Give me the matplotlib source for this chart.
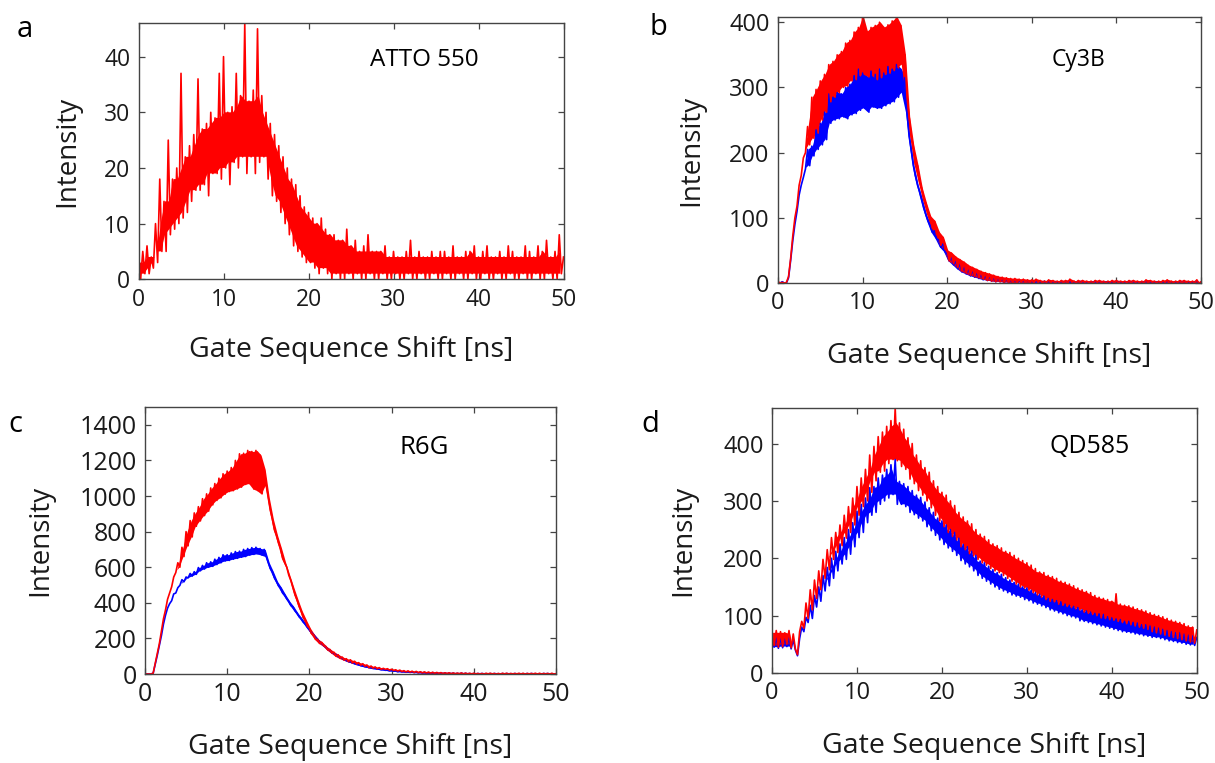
import numpy as np
import matplotlib
matplotlib.use('Agg')
import matplotlib.pyplot as plt

plt.rcParams['font.family'] = ['Open Sans', 'DejaVu Sans']

# gate shift, sampled every 0.25 ns (4 values per ns row below)
# values alternate between the top and the bottom of the noise band
shift_ns = np.arange(0, 50.01, 0.25)

# a: ATTO 550
atto550_red = [
    3, 0, 5, 1,   6, 1, 4, 2,   10, 3, 18, 5,   14, 5, 25, 8,   18, 9, 20, 10,
    37, 11, 22, 12,   24, 14, 26, 16,   36, 16, 27, 17,   28, 15, 30, 19,   29, 19, 37, 18,
    40, 20, 30, 17,   31, 21, 37, 20,   33, 22, 46, 19,   32, 22, 34, 19,   45, 21, 33, 22,
    30, 18, 28, 15,   26, 14, 24, 12,   22, 10, 20, 8,   18, 6, 17, 5,   15, 4, 13, 3,
    12, 3, 11, 2,   10, 1, 11, 2,   9, 1, 8, 0,   8, 1, 7, 0,   7, 0, 9, 1,
    6, 0, 7, 1,   5, 0, 6, 0,   8, 1, 5, 0,   5, 0, 5, 1,   6, 0, 4, 0,
    5, 1, 4, 0,   4, 0, 5, 1,   7, 0, 4, 0,   5, 1, 4, 0,   4, 0, 5, 1,
    4, 0, 5, 0,   5, 1, 4, 0,   6, 0, 4, 1,   4, 0, 5, 0,   5, 1, 6, 0,
    4, 0, 5, 1,   6, 0, 4, 0,   4, 1, 5, 0,   4, 0, 6, 1,   5, 0, 4, 0,
    4, 1, 6, 0,   5, 0, 4, 1,   6, 0, 5, 0,   7, 1, 4, 0,   5, 0, 8, 1,
    4]

# b: Cy3B
cy3b_blue = [
    1, 0, 2, 0,   0, 8, 35, 65,   90, 110, 135, 150,   162, 175, 205, 180,   210, 195, 235, 205,
    245, 212, 262, 220,   290, 245, 285, 250,   292, 252, 290, 255,   300, 252, 305, 258,   318, 260, 328, 265,
    322, 268, 316, 262,   325, 270, 320, 268,   328, 268, 322, 272,   332, 275, 328, 278,   335, 285, 328, 292,
    315, 262, 225, 205,   180, 165, 150, 140,   128, 115, 104, 95,   88, 78, 80, 68,   66, 55, 60, 48,
    44, 34, 40, 28,   34, 22, 30, 17,   26, 14, 22, 11,   20, 9, 17, 7,   14, 5, 12, 4,
    11, 3, 9, 2,   8, 2, 7, 1,   6, 1, 5, 0,   5, 0, 4, 1,   4, 0, 4, 0,
    3, 0, 2, 1,   2, 0, 3, 0,   3, 0, 2, 1,   2, 0, 3, 0,   3, 1, 2, 0,
    2, 0, 3, 1,   3, 0, 2, 0,   2, 1, 3, 0,   3, 0, 2, 1,   2, 0, 3, 0,
    3, 1, 2, 0,   2, 0, 3, 1,   3, 0, 2, 0,   2, 1, 3, 0,   3, 0, 2, 1,
    2, 0, 3, 0,   3, 1, 2, 0,   2, 0, 3, 1,   3, 0, 2, 0,   2, 1, 3, 0,
    1]
cy3b_red = [
    2, 0, 1, 0,   1, 10, 38, 72,   100, 118, 150, 165,   192, 200, 240, 212,   285, 222, 297, 230,
    310, 250, 320, 262,   335, 278, 340, 285,   350, 292, 355, 300,   368, 302, 372, 310,   385, 312, 392, 318,
    410, 320, 386, 316,   392, 318, 395, 312,   400, 315, 392, 320,   396, 322, 402, 326,   408, 330, 395, 335,
    350, 285, 255, 225,   210, 182, 180, 155,   145, 128, 122, 105,   102, 84, 95, 74,   78, 58, 70, 52,
    50, 34, 46, 30,   40, 24, 36, 18,   32, 15, 27, 12,   24, 10, 21, 8,   18, 6, 16, 4,
    14, 3, 12, 2,   10, 2, 9, 1,   8, 1, 7, 0,   7, 0, 6, 1,   6, 0, 5, 0,
    5, 0, 6, 1,   4, 0, 3, 1,   5, 0, 4, 0,   3, 1, 4, 0,   4, 0, 6, 1,
    3, 0, 4, 0,   4, 1, 3, 0,   3, 0, 4, 1,   4, 0, 3, 0,   3, 1, 4, 0,
    4, 0, 3, 1,   3, 0, 4, 0,   4, 1, 3, 0,   3, 0, 5, 0,   4, 1, 3, 0,
    3, 0, 4, 1,   5, 0, 3, 0,   3, 1, 4, 0,   4, 0, 3, 1,   3, 0, 5, 0,
    2]

# c: R6G
r6g_blue = [
    0, 0, 0, 0,   5, 55, 105, 160,   215, 280, 330, 370,   395, 412, 450, 455,   485, 498, 530, 518,
    545, 540, 565, 550,   575, 560, 598, 580,   610, 590, 625, 600,   630, 605, 645, 615,   655, 625, 670, 635,
    670, 638, 680, 645,   688, 650, 690, 656,   700, 660, 705, 668,   710, 672, 712, 675,   705, 668, 700, 660,
    625, 592, 575, 540,   520, 495, 485, 455,   445, 422, 408, 385,   378, 355, 342, 322,   312, 292, 282, 262,
    248, 232, 222, 205,   195, 178, 172, 158,   152, 138, 134, 120,   115, 108, 100, 92,   88, 80, 76, 70,
    68, 62, 58, 54,   52, 47, 45, 41,   40, 36, 35, 31,   31, 28, 27, 24,   25, 21, 22, 18,
    20, 16, 18, 13,   16, 12, 14, 10,   13, 9, 12, 8,   11, 7, 10, 6,   9, 5, 8, 4,
    8, 4, 7, 3,   6, 3, 6, 2,   5, 2, 5, 1,   4, 1, 5, 1,   4, 1, 3, 0,
    3, 0, 3, 1,   3, 1, 2, 0,   3, 0, 3, 1,   2, 0, 3, 0,   3, 1, 2, 0,
    3, 0, 2, 1,   2, 0, 3, 0,   3, 1, 2, 0,   2, 0, 3, 1,   3, 0, 2, 0,
    1]
r6g_red = [
    0, 0, 0, 0,   5, 60, 112, 170,   240, 310, 360, 420,   455, 490, 545, 570,   625, 600, 712, 660,
    800, 720, 862, 770,   905, 830, 940, 860,   985, 890, 1012, 915,   1045, 950, 1070, 975,   1100, 990, 1125, 1010,
    1140, 1025, 1160, 1030,   1200, 1040, 1237, 1050,   1240, 1065, 1256, 1070,   1250, 1040, 1256, 1030,   1230, 1012, 1150, 1060,
    990, 920, 870, 810,   780, 735, 705, 650,   625, 600, 555, 525,   485, 445, 418, 380,   355, 318, 305, 270,
    258, 228, 222, 195,   195, 172, 178, 158,   155, 135, 138, 118,   122, 100, 108, 88,   95, 78, 86, 70,
    80, 62, 72, 56,   64, 50, 58, 44,   51, 36, 45, 33,   40, 30, 36, 27,   32, 26, 30, 22,
    27, 20, 24, 17,   22, 14, 19, 12,   18, 11, 16, 9,   15, 8, 13, 7,   12, 6, 11, 5,
    10, 4, 9, 4,   8, 3, 7, 3,   7, 2, 6, 2,   5, 2, 6, 1,   5, 1, 4, 1,
    4, 1, 3, 0,   3, 0, 4, 1,   4, 1, 3, 0,   3, 0, 4, 1,   4, 0, 3, 1,
    3, 1, 4, 0,   4, 0, 3, 1,   3, 1, 4, 0,   4, 0, 3, 1,   3, 0, 4, 0,
    2]

# d: QD585
qd585_blue = [
    60, 45, 62, 43,   61, 44, 60, 46,   62, 42, 58, 40,   30, 60, 80, 72,   97, 88, 118, 95,
    135, 115, 150, 125,   170, 143, 184, 152,   200, 165, 212, 178,   225, 190, 236, 198,   250, 207, 262, 220,
    282, 236, 294, 245,   305, 262, 323, 275,   325, 280, 340, 294,   345, 300, 355, 305,   363, 311, 372, 294,
    334, 294, 330, 290,   325, 280, 318, 276,   310, 270, 306, 265,   298, 255, 288, 248,   280, 240, 270, 232,
    265, 224, 258, 218,   250, 212, 245, 205,   235, 196, 224, 190,   220, 185, 212, 178,   205, 170, 195, 165,
    192, 160, 186, 155,   180, 150, 175, 146,   172, 143, 166, 140,   162, 136, 158, 134,   155, 132, 150, 128,
    148, 126, 144, 122,   140, 120, 137, 117,   134, 114, 130, 110,   128, 108, 126, 105,   124, 103, 120, 100,
    118, 98, 116, 96,   114, 91, 110, 90,   108, 88, 106, 86,   104, 84, 103, 82,   102, 80, 98, 78,
    96, 76, 94, 74,   93, 72, 90, 71,   90, 70, 88, 68,   87, 67, 84, 65,   84, 64, 82, 62,
    80, 62, 78, 60,   76, 58, 74, 56,   72, 55, 70, 53,   70, 52, 68, 50,   66, 49, 65, 48,
    62]
qd585_red = [
    70, 48, 74, 45,   72, 46, 70, 50,   74, 44, 68, 42,   32, 72, 90, 78,   122, 95, 145, 110,
    162, 130, 178, 145,   198, 165, 215, 180,   236, 198, 245, 210,   258, 222, 275, 235,   290, 245, 305, 258,
    325, 275, 340, 290,   355, 300, 380, 315,   395, 335, 412, 350,   420, 352, 430, 365,   440, 372, 462, 370,
    436, 360, 425, 355,   410, 338, 400, 330,   380, 318, 370, 310,   358, 300, 350, 288,   335, 275, 325, 265,
    315, 255, 310, 245,   300, 238, 292, 232,   280, 220, 272, 215,   265, 208, 260, 204,   250, 198, 242, 192,
    238, 188, 232, 182,   225, 178, 222, 175,   218, 170, 212, 165,   210, 160, 205, 155,   200, 150, 196, 148,
    192, 144, 188, 140,   182, 136, 176, 132,   175, 128, 170, 125,   168, 124, 165, 120,   160, 118, 158, 116,
    155, 114, 152, 112,   148, 110, 145, 106,   142, 104, 140, 102,   135, 100, 132, 96,   130, 95, 128, 93,
    125, 92, 138, 90,   120, 88, 118, 86,   117, 84, 115, 82,   112, 80, 110, 78,   108, 76, 105, 72,
    102, 70, 100, 68,   98, 66, 95, 64,   92, 62, 90, 60,   88, 58, 86, 56,   82, 54, 80, 52,
    75]

panels = [
    # letter, name, traces, ylim, yticks, tick size, name size, name pos, ylabel x, core window
    ('a', 'ATTO 550', [atto550_red], 46, np.arange(0, 41, 10), 16.5, 17.5, (0.672, 0.857), -0.167, 3),
    ('b', 'Cy3B', [cy3b_blue, cy3b_red], 408, np.arange(0, 401, 100), 17, 16.5, (0.710, 0.838), -0.206, 1),
    ('c', 'R6G', [r6g_blue, r6g_red], 1500, np.arange(0, 1401, 200), 18, 18.5, (0.679, 0.850), -0.255, 1),
    ('d', 'QD585', [qd585_blue, qd585_red], 462, np.arange(0, 401, 100), 17, 18, (0.747, 0.853), -0.208, 3),
]
axes_rects = [
    [0.114, 0.634, 0.3498, 0.3355],
    [0.6403, 0.629, 0.3482, 0.3487],
    [0.1193, 0.1166, 0.3383, 0.3500],
    [0.6354, 0.118, 0.3496, 0.3473],
]
letter_pos = [(0.0206, 0.9607), (0.542, 0.9646), (0.0123, 0.443), (0.535, 0.443)]


def window(a, fn, n):
    if n == 1:
        return a
    p = np.pad(a, 1, mode='edge')
    return fn(np.stack([p[:-2], p[1:-1], p[2:]]), axis=0)


fig = plt.figure(figsize=(12.15, 7.63), dpi=100)

for (letter, name, traces, ytop, yticks, tsize, nsize, npos, ylx, win), rect, lpos in zip(panels, axes_rects, letter_pos):
    ax = fig.add_axes(rect)
    colors = ['#0000ff', '#ff0000'] if len(traces) == 2 else ['#ff0000']
    for vals, col in zip(traces, colors):
        assert len(vals) == len(shift_ns), (name, len(vals))
        vals = np.asarray(vals, dtype=float)
        # solid core of the noise band; the raw trace draws the spikes around it
        tops = vals[0:-1:2]
        bots = vals[1::2]
        xc = shift_ns[0:-1:2] + 0.125
        core_top = window(tops, np.min, win)
        core_bot = window(bots, np.max, win)
        ax.fill_between(xc, core_bot, core_top, where=core_top > core_bot,
                        interpolate=True, color=col, lw=0)
        ax.plot(shift_ns, vals, color=col, lw=1.2)
    ax.set_xlim(0, 50)
    ax.set_ylim(0, ytop)
    ax.set_xticks(np.arange(0, 51, 10))
    ax.set_yticks(yticks)
    ax.tick_params(direction='in', top=True, right=True, length=4, width=0.9,
                   color='#444444', labelsize=tsize, labelcolor='#1a1a1a', pad=6)
    for sp in ax.spines.values():
        sp.set_color('#444444')
        sp.set_linewidth(1.0)
    ax.set_xlabel('Gate Sequence Shift [ns]', fontsize=20.5, color='#1a1a1a')
    ax.set_ylabel('Intensity', fontsize=20, color='#1a1a1a')
    ax.xaxis.set_label_coords(0.5, -0.275)
    ax.xaxis.label.set_va('center')
    ax.yaxis.set_label_coords(ylx, 0.5)
    ax.yaxis.label.set_va('center')
    ax.text(npos[0], npos[1], name, transform=ax.transAxes, ha='center', va='center',
            fontsize=nsize, color='black')
    fig.text(lpos[0], lpos[1], letter, ha='center', va='center', fontsize=21, color='black')

fig.savefig('out.png', dpi=100)
